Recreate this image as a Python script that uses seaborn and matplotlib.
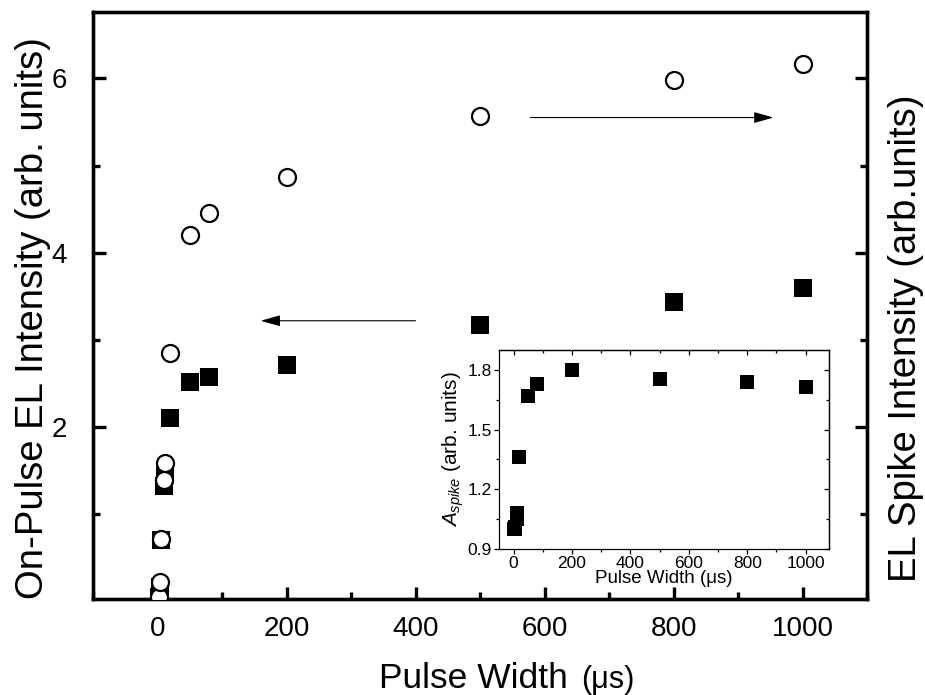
import matplotlib
matplotlib.use("Agg")
import matplotlib.pyplot as plt
import seaborn as sns
from matplotlib.ticker import MultipleLocator

# ---------------- data ----------------
pulse_width = [2, 4, 6, 10, 12, 20, 50, 80, 200, 500, 800, 1000]          # µs
on_pulse_el = [0.05, 0.17, 0.71, 1.33, 1.45, 2.10, 2.52, 2.57, 2.71, 3.17, 3.44, 3.59]
spike_el = [0.05, 0.22, 0.72, 1.39, 1.59, 2.85, 4.20, 4.45, 4.87, 5.57, 5.98, 6.16]
a_spike = [1.00, 1.00, 1.01, 1.05, 1.08, 1.36, 1.67, 1.73, 1.80, 1.755, 1.74, 1.715]

main_xticks = [0, 200, 400, 600, 800, 1000]
main_yticks = [2, 4, 6]
inset_yticks = [0.9, 1.2, 1.5, 1.8]

# arrow annotations (data units): (tail, head, y)
arrow_left = (400, 160, 3.22)
arrow_right = (578, 955, 5.55)

# ---------------- style ----------------
sns.set_style("ticks")
plt.rcParams["font.family"] = ["Liberation Sans", "DejaVu Sans"]
plt.rcParams["mathtext.fontset"] = "custom"
plt.rcParams["mathtext.rm"] = "Liberation Sans"
plt.rcParams["mathtext.it"] = "Liberation Sans:italic"
for k in ("axes.edgecolor", "xtick.color", "ytick.color", "text.color",
          "axes.labelcolor"):
    plt.rcParams[k] = "black"

W, H = 925, 695
fig = plt.figure(figsize=(W / 100, H / 100), dpi=100)

# main axes
ax = fig.add_axes([93 / W, (H - 599) / H, 774 / W, 587 / H])
ax2 = ax.twinx()

sns.scatterplot(x=pulse_width, y=on_pulse_el, marker="s", s=150, color="black",
                edgecolor="black", linewidth=0, ax=ax, zorder=3)
sns.scatterplot(x=pulse_width, y=spike_el, marker="o", s=150, color="white",
                edgecolor="black", linewidth=1.6, ax=ax2, zorder=4)

for a in (ax, ax2):
    a.set_xlim(-100, 1100)
    a.set_ylim(0.03, 6.76)
    for sp in a.spines.values():
        sp.set_linewidth(2.4)
        sp.set_visible(True)
        sp.set_color("black")

ax.set_xticks(main_xticks)
ax.xaxis.set_minor_locator(MultipleLocator(100))
ax.set_yticks(main_yticks)
ax.yaxis.set_minor_locator(MultipleLocator(1))
ax.tick_params(axis="both", which="major", direction="in", length=9, width=2.4,
               labelsize=20, pad=12, top=False, right=False, colors="black")
ax.tick_params(axis="both", which="minor", direction="in", length=5, width=2.4,
               top=False, right=False, colors="black")
ax.tick_params(axis="y", which="major", pad=19)

ax2.set_yticks(main_yticks)
ax2.yaxis.set_minor_locator(MultipleLocator(1))
ax2.tick_params(axis="y", which="major", direction="in", length=9, width=2.4,
                labelright=False, right=True, left=False, colors="black")
ax2.tick_params(axis="y", which="minor", direction="in", length=5, width=2.4,
                right=True, left=False, colors="black")
ax.set_xlabel("")
ax.set_ylabel("")
ax2.set_ylabel("")

# arrows
for tail, head, yy in (arrow_left, arrow_right):
    ax.annotate("", xy=(head, yy), xytext=(tail, yy),
                arrowprops=dict(arrowstyle="-|>,head_length=0.6,head_width=0.17",
                                color="black", lw=0.8, mutation_scale=20,
                                shrinkA=0, shrinkB=0))

# axis labels
fig.text(33 / W, 1 - 318 / H, "On-Pulse EL Intensity (arb. units)", rotation=90,
         ha="center", va="center", fontsize=27.5)
fig.text(906 / W, 1 - 338 / H, "EL Spike Intensity (arb.units)", rotation=90,
         ha="center", va="center", fontsize=27.5)
t1 = fig.text(379 / W, 1 - 688 / H, "Pulse Width", ha="left", va="baseline", fontsize=25.5)
fig.canvas.draw()
bb = t1.get_window_extent(renderer=fig.canvas.get_renderer())
fig.text((bb.x1 + 13) / W, 1 - 688 / H, "(\u03bcs)", ha="left", va="baseline", fontsize=22)

# inset
ins = fig.add_axes([499 / W, (H - 549) / H, 330 / W, 199 / H], zorder=10)
ins.set_facecolor("white")
sns.scatterplot(x=pulse_width, y=a_spike, marker="s", s=110, color="black",
                edgecolor="black", linewidth=0, ax=ins, zorder=3)
ins.set_xlim(-50, 1080)
ins.set_ylim(0.9, 1.9)
ins.set_xticks(main_xticks)
ins.xaxis.set_minor_locator(MultipleLocator(100))
ins.set_yticks(inset_yticks)
ins.yaxis.set_minor_locator(MultipleLocator(0.15))
for sp in ins.spines.values():
    sp.set_linewidth(0.9)
    sp.set_visible(True)
    sp.set_color("black")
ins.tick_params(axis="both", which="major", direction="out", length=3.5, width=0.9,
                labelsize=12.5, pad=1.5, colors="black")
ins.tick_params(axis="both", which="minor", direction="out", length=2, width=0.9,
                colors="black")
secx = ins.secondary_xaxis("top")
secx.set_xticks(main_xticks)
secx.xaxis.set_minor_locator(MultipleLocator(100))
secx.tick_params(which="major", direction="in", length=3.5, width=0.9, labeltop=False)
secx.tick_params(which="minor", direction="in", length=2, width=0.9)
secy = ins.secondary_yaxis("right")
secy.set_yticks(inset_yticks)
secy.yaxis.set_minor_locator(MultipleLocator(0.15))
secy.tick_params(which="major", direction="in", length=3.5, width=0.9, labelright=False)
secy.tick_params(which="minor", direction="in", length=2, width=0.9)
for s in (secx, secy):
    for sp in s.spines.values():
        sp.set_linewidth(0.9)
ins.set_xlabel("Pulse Width (\u03bcs)", fontsize=13.5, labelpad=-1)
ins.set_ylabel(r"$A_{spike}$ (arb. units)", fontsize=15, labelpad=1)

fig.savefig("out.png", dpi=100)
